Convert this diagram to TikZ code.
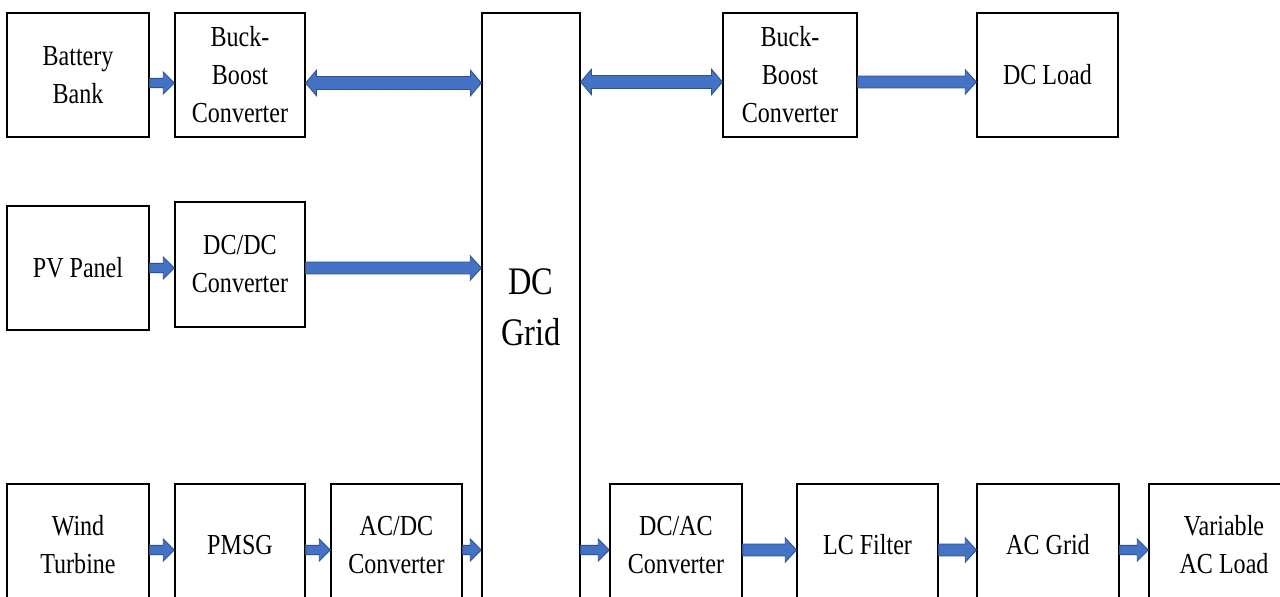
\documentclass[tikz,border=0pt]{standalone}
\usepackage{fontspec}
\setmainfont[FakeStretch=0.83]{Liberation Serif}
\usetikzlibrary{calc}
\definecolor{arrfill}{HTML}{4472C4}
\definecolor{arrline}{HTML}{2F528F}
\tikzset{
  box/.style={draw=black, line width=0.75pt, fill=white, align=center, inner sep=0pt,
    font=\fontsize{16.5pt}{21.6pt}\selectfont},
  bigbox/.style={box, font=\fontsize{22.2pt}{29pt}\selectfont},
  blockarrow/.style n args={3}{fill=arrfill, draw=arrline, line width=0.5pt,
    to path={let \p1=(\tikztostart), \p2=(\tikztotarget) in
      (\x1,\y1+#1) -- (\x2-#3,\y1+#1) -- (\x2-#3,\y1+#2) -- (\x2,\y1)
      -- (\x2-#3,\y1-#2) -- (\x2-#3,\y1-#1) -- (\x1,\y1-#1) -- cycle}},
  bidiblock/.style n args={3}{fill=arrfill, draw=arrline, line width=0.5pt,
    to path={let \p1=(\tikztostart), \p2=(\tikztotarget) in
      (\x1,\y1) -- (\x1+#3,\y1+#2) -- (\x1+#3,\y1+#1) -- (\x2-#3,\y1+#1)
      -- (\x2-#3,\y1+#2) -- (\x2,\y1) -- (\x2-#3,\y1-#2) -- (\x2-#3,\y1-#1)
      -- (\x1+#3,\y1-#1) -- (\x1+#3,\y1-#2) -- cycle}},
  thinarrow/.style={blockarrow={2.6pt}{6.3pt}{6.3pt}},
  thickarrow/.style={blockarrow={3.4pt}{6.9pt}{6.3pt}},
  bidiarrow/.style={bidiblock={3.7pt}{7.3pt}{6.2pt}},
}
\begin{document}
\begin{tikzpicture}[x=0.02cm, y=-0.02cm]
\useasboundingbox (0,0) rectangle (1280,597);
\clip (0,0) rectangle (1280,597);
\fill[white] (0,0) rectangle (1280,597);

% row levels
\coordinate (yA) at (0,83);
\coordinate (yA2) at (0,82);
\coordinate (yB) at (0,268);
\coordinate (yC) at (0,550);

% boxes
\node[box, minimum width=2.84cm, minimum height=2.48cm] (bat) at (78,75) {Battery\\Bank};
\node[box, minimum width=2.60cm, minimum height=2.48cm] (bb1) at (240,75) {Buck-\\Boost\\Converter};
\node[bigbox, minimum width=1.96cm, minimum height=11.76cm] (grid) at (531,307) {DC\\Grid};
\node[box, minimum width=2.68cm, minimum height=2.48cm] (bb2) at (790,75) {Buck-\\Boost\\Converter};
\node[box, minimum width=2.82cm, minimum height=2.48cm] (dcl) at (1047.5,75) {DC Load};

\node[box, minimum width=2.84cm, minimum height=2.48cm] (pv) at (78,268) {PV Panel};
\node[box, minimum width=2.60cm, minimum height=2.50cm] (dcdc) at (240,264.5) {DC/DC\\Converter};

\node[box, minimum width=2.84cm, minimum height=2.44cm] (wind) at (78,545) {Wind\\Turbine};
\node[box, minimum width=2.60cm, minimum height=2.44cm] (pmsg) at (240,545) {PMSG};
\node[box, minimum width=2.62cm, minimum height=2.44cm] (acdc) at (396.5,545) {AC/DC\\Converter};
\node[box, minimum width=2.64cm, minimum height=2.44cm] (dcac) at (676,545) {DC/AC\\Converter};
\node[box, minimum width=2.82cm, minimum height=2.44cm] (lcf) at (867.5,545) {LC Filter};
\node[box, minimum width=2.84cm, minimum height=2.44cm] (acg) at (1048,545) {AC Grid};
\node[box, minimum width=3.00cm, minimum height=2.44cm] (var) at (1224,545) {Variable\\AC Load};

% connectors
\draw[thinarrow] (bat.east |- yA) to (bb1.west |- yA);
\draw[bidiarrow] (bb1.east |- yA) to (grid.west |- yA);
\draw[bidiarrow] (grid.east |- yA2) to (bb2.west |- yA2);
\draw[thickarrow] (bb2.east |- yA2) to (dcl.west |- yA2);

\draw[thinarrow] (pv.east |- yB) to (dcdc.west |- yB);
\draw[thickarrow] (dcdc.east |- yB) to (grid.west |- yB);

\draw[thinarrow] (wind.east |- yC) to (pmsg.west |- yC);
\draw[thinarrow] (pmsg.east |- yC) to (acdc.west |- yC);
\draw[thinarrow] (acdc.east |- yC) to (grid.west |- yC);
\draw[thinarrow] (grid.east |- yC) to (dcac.west |- yC);
\draw[thickarrow] (dcac.east |- yC) to (lcf.west |- yC);
\draw[thickarrow] (lcf.east |- yC) to (acg.west |- yC);
\draw[thinarrow] (acg.east |- yC) to (var.west |- yC);
\end{tikzpicture}
\end{document}
